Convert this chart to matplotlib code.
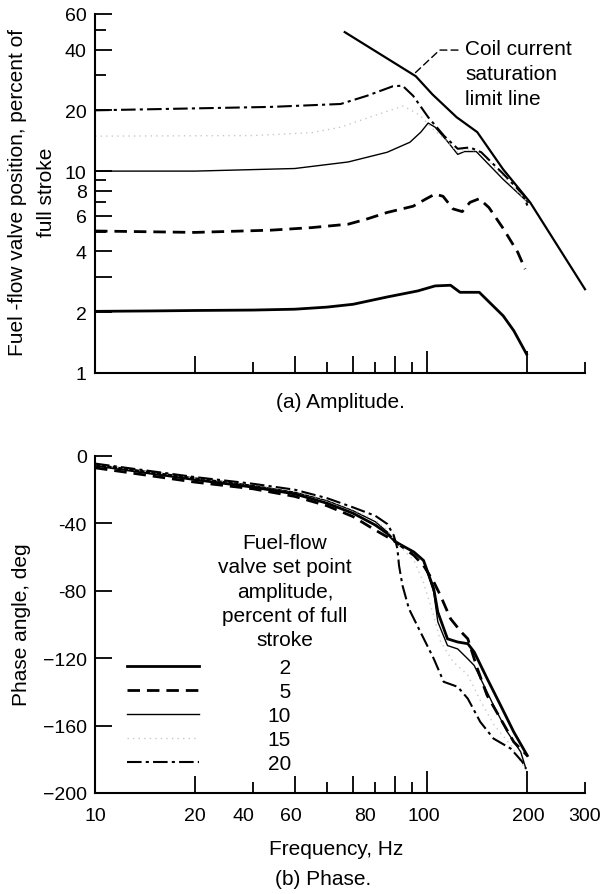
import matplotlib
matplotlib.use("Agg")
import matplotlib.pyplot as plt
from matplotlib.ticker import FixedLocator, FixedFormatter, NullFormatter

plt.rcParams["font.family"] = ["Liberation Sans", "DejaVu Sans"]

# ---- (a) amplitude, percent of full stroke ----
amp_f_2 = [10, 15, 20, 30, 40, 50, 60, 76, 94, 106, 118, 126, 144, 170, 183, 200]
amp_2 = [2.02, 2.03, 2.04, 2.05, 2.07, 2.12, 2.19, 2.38, 2.55, 2.70, 2.72, 2.51, 2.51, 1.92, 1.62, 1.24]

amp_f_5 = [10, 20, 34, 45, 58, 66, 76, 91, 99, 106, 112, 120, 128, 135, 144, 154, 170, 188, 198]
amp_5 = [5.05, 4.97, 5.1, 5.25, 5.46, 5.79, 6.24, 6.7, 7.25, 7.7, 7.5, 6.5, 6.3, 7.0, 7.3, 6.6, 5.2, 3.97, 3.27]

amp_f_10 = [10, 20, 40, 58, 76, 89, 96, 101, 106, 116, 124, 130, 141, 170, 202]
amp_10 = [10.0, 10.0, 10.3, 11.1, 12.4, 13.9, 15.6, 17.3, 16.5, 13.9, 12.1, 12.5, 12.5, 9.1, 7.0]

amp_f_15 = [10, 30, 45, 55, 72, 85, 95, 105, 116, 124, 135, 146, 170, 200]
amp_15 = [14.9, 15.0, 15.5, 16.5, 19.2, 21.0, 19.0, 16.0, 13.9, 12.4, 12.8, 12.3, 9.4, 7.1]

amp_f_20 = [10, 34, 55, 66, 79, 84.5, 91, 101, 113, 124, 135, 146, 170, 196, 202]
amp_20 = [20.0, 20.8, 21.5, 23.6, 26.3, 26.5, 23.6, 18.5, 14.9, 12.9, 13.1, 12.4, 9.7, 7.6, 6.6]

limit_f = [56.6, 92.7, 104, 123, 142, 170, 205, 300]
limit_amp = [48.8, 29.5, 24.0, 18.5, 15.6, 10.2, 7.0, 2.6]

# ---- (b) phase angle, deg ----
ph_f_2 = [10, 20, 30, 40, 50, 60, 70, 76, 80.6, 91.5, 97.8, 105, 108, 115.5, 124, 133, 139, 152, 167, 183, 201]
ph_2 = [-5.5, -14, -18.5, -22.5, -28, -34, -41, -46, -51, -57, -62, -78.8, -92.6, -108.5, -110.4, -111.4,
        -116.3, -132, -148, -163.8, -177.8]

ph_f_5 = [10, 20, 30, 40, 50, 60, 70, 76, 80.6, 91.5, 97.8, 105, 110, 118, 127, 133, 142, 152, 167, 183, 201]
ph_5 = [-7, -15.5, -19.5, -24, -29.5, -36, -44, -48, -51, -59, -65, -74.7, -82.8, -96.6, -104.4, -108.5,
        -126, -142, -156, -169.7, -177.8]

ph_f_10 = [10, 20, 30, 40, 50, 60, 70, 76, 80.6, 91.5, 97.8, 105, 108, 115.5, 124, 133, 139, 148.6, 159, 175, 192, 199]
ph_10 = [-5, -13, -17.5, -21.5, -26.5, -32.5, -39, -45, -51, -57, -62, -80.8, -98.4, -112.5, -114.5, -120.4,
         -124.3, -136, -148, -163.8, -175.6, -185.5]

ph_f_15 = [10, 20, 30, 40, 50, 60, 70, 76, 80.6, 91.5, 97.8, 105, 110, 120, 133, 145, 160, 180, 200]
ph_15 = [-5, -13, -17, -21, -26, -32, -38, -44, -51, -62, -75, -95, -110, -122, -130, -145, -160, -172, -187]

ph_f_20 = [10, 20, 30, 40, 50, 60, 70, 76, 79.5, 80.6, 81.6, 82.5, 84.5, 88.4, 95.7, 105, 112.5, 124, 133,
           145, 159, 179, 194, 199]
ph_20 = [-4.5, -12.5, -16.5, -20, -25, -30.5, -35.5, -40.3, -47, -51, -55, -65, -76.8, -90.7, -104.4, -120.3,
         -134, -137, -144, -157.8, -167.7, -173.6, -181.4, -185.5]

set_points = ["2", "5", "10", "15", "20"]

# tick marks on the frequency axis and the (oddly placed) printed labels
freq_ticks = [20, 30, 40, 50, 60, 70, 80, 90, 100, 200, 300]
freq_tick_len = [17, 11, 17, 11, 17, 11, 17, 11, 22, 22, 11]
freq_label_pos = [10, 20, 28, 39, 65, 98, 202, 299]
freq_labels = ["10", "20", "40", "60", "80", "100", "200", "300"]

amp_ticks = [1, 2, 3, 4, 5, 6, 7, 8, 9, 10, 20, 30, 40, 50, 60]
amp_tick_len = [0, 17, 17, 17, 11, 17, 11, 17, 11, 17, 17, 11, 17, 11, 17]
amp_labels = ["1", "2", "", "4", "", "6", "", "8", "", "10", "20", "", "40", "", "60"]

phase_ticks = [-200, -160, -120, -80, -40, 0]
phase_labels = ["\u2212200", "\u2212160", "\u2212120", "-80", "-40", "0"]

styles = {
    "2": dict(color="black", lw=2.0, ls="-"),
    "5": dict(color="black", lw=2.0, ls=(0, (4.5, 2.5))),
    "10": dict(color="black", lw=1.0, ls="-"),
    "15": dict(color="#c8c8c8", lw=1.0, ls=(0, (1, 3))),
    "20": dict(color="black", lw=1.5, ls=(0, (7, 2, 1.5, 2))),
}

W, H = 604, 895
fig = plt.figure(figsize=(W / 100, H / 100), dpi=100)


def px(x, y):
    return x / W, 1 - y / H


ax1 = fig.add_axes([95 / W, 1 - 374 / H, 490 / W, 359 / H])
ax2 = fig.add_axes([95 / W, 1 - 794 / H, 490 / W, 337 / H])

amp_sets = [(amp_f_2, amp_2), (amp_f_5, amp_5), (amp_f_10, amp_10), (amp_f_15, amp_15), (amp_f_20, amp_20)]
ph_sets = [(ph_f_2, ph_2), (ph_f_5, ph_5), (ph_f_10, ph_10), (ph_f_15, ph_15), (ph_f_20, ph_20)]

for name, (f, a) in zip(set_points, amp_sets):
    ax1.plot(f, a, **styles[name])
ax1.plot(limit_f, limit_amp, color="black", lw=1.6, clip_on=False)

handles = []
for name, (f, p) in zip(set_points, ph_sets):
    (ln,) = ax2.plot(f, p, **styles[name])
    handles.append(ln)

for ax in (ax1, ax2):
    ax.set_xscale("log")
    ax.set_xlim(10, 300)
    for s in ("top", "right"):
        ax.spines[s].set_visible(False)
    for s in ("left", "bottom"):
        ax.spines[s].set_linewidth(1.5)
    ax.xaxis.set_major_locator(FixedLocator(freq_ticks))
    ax.xaxis.set_major_formatter(NullFormatter())
    ax.tick_params(axis="both", which="major", direction="in", width=1.3, labelsize=14)
    for t, L in zip(ax.xaxis.get_major_ticks(), freq_tick_len):
        t.tick1line.set_markersize(L * 0.72)

ax2.xaxis.remove_overlapping_locs = False
ax2.xaxis.set_minor_locator(FixedLocator(freq_label_pos))
ax2.xaxis.set_minor_formatter(FixedFormatter(freq_labels))
ax2.tick_params(axis="x", which="minor", length=0, labelsize=14, pad=10)
ax1.xaxis.set_minor_locator(FixedLocator([]))

ax1.set_yscale("log")
ax1.set_ylim(1, 60)
ax1.yaxis.set_major_locator(FixedLocator(amp_ticks))
ax1.yaxis.set_major_formatter(FixedFormatter(amp_labels))
ax1.yaxis.set_minor_locator(FixedLocator([]))
ax1.tick_params(axis="y", pad=6)
for t, L in zip(ax1.yaxis.get_major_ticks(), amp_tick_len):
    t.tick1line.set_markersize(L * 0.72)

ax2.set_ylim(-200, 0)
ax2.yaxis.set_major_locator(FixedLocator(phase_ticks))
ax2.yaxis.set_major_formatter(FixedFormatter(phase_labels))
ax2.tick_params(axis="y", length=12.5, pad=6)

# coil current annotation
ax1.annotate("Coil current\nsaturation\nlimit line", xy=(91, 30), xytext=(0.755, 0.93),
             textcoords="axes fraction", ha="left", va="top", fontsize=15, linespacing=1.38,
             arrowprops=dict(arrowstyle="-", lw=1.0, linestyle=(0, (5, 3)), relpos=(0, 0.84),
                             connectionstyle="angle,angleA=0,angleB=43,rad=0", shrinkA=3, shrinkB=0))

# legend of panel (b)
leg = ax2.legend(handles, ["\u20072", "\u20075", "10", "15", "20"], loc="upper left",
                 bbox_to_anchor=(0.065, 0.40), frameon=False, fontsize=15, handlelength=3.46,
                 handletextpad=3.3, labelspacing=0.24, borderpad=0, borderaxespad=0)
ax2.text(0.388, 0.772, "Fuel-flow\nvalve set point\namplitude,\npercent of full\nstroke",
         transform=ax2.transAxes, ha="center", va="top", fontsize=15, linespacing=1.36)

fig.text(*px(32, 192), "Fuel -flow valve position, percent of\nfull stroke", rotation=90,
         ha="center", va="center", fontsize=15, linespacing=1.6)
fig.text(*px(22, 625), "Phase angle, deg", rotation=90, ha="center", va="center", fontsize=15)
fig.text(*px(340, 403), "(a) Amplitude.", ha="center", va="center", fontsize=15)
fig.text(*px(336, 850), "Frequency, Hz", ha="center", va="center", fontsize=15)
fig.text(*px(323, 880), "(b) Phase.", ha="center", va="center", fontsize=15)

fig.savefig("out.png", dpi=100)
